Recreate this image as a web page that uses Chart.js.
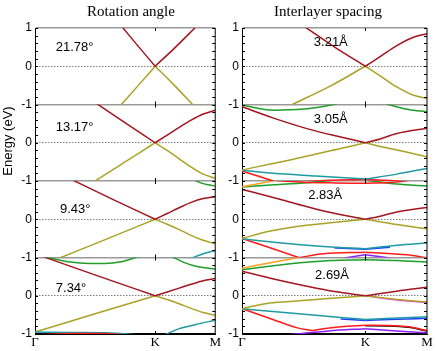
<!DOCTYPE html>
<html lang="en">
<head>
<meta charset="UTF-8" />
<script src="https://cdn.jsdelivr.net/npm/chart.js"></script>
<style>
  body { margin: 0; background: #fff; }
  canvas { position: absolute; top: 0; }
  #rotChart { left: 0; }
  #gapChart { left: 222px; }
</style>
</head>
<body>
<canvas id="rotChart" width="222" height="351"></canvas>
<canvas id="gapChart" width="214" height="351"></canvas>
<script>
// k path: Γ - K - M
const kTicks = [0, 1, 1.5];
const kLabels = ["Γ", "K", "M"];
// four stacked sub panels (E from -1 to 1), shifted on one axis
const panelOffset = [3, 1, -1, -3];
const rotLabels = ["21.78°", "13.17°", "9.43°", "7.34°"];
const gapLabels = ["3.21Å", "3.05Å", "2.83Å", "2.69Å"];

// bands, [k, E]
// rotation angle
const rot0Red = [[0.72,1.05],[0.86,0.52],[1,0],[1.17,0.5],[1.34,1.03]];
const rot0Yel = [[0.71,-1.03],[0.86,-0.5],[1,0],[1.16,-0.5],[1.32,-1.03]];
const rot1Red = [[0.51,1.03],[0.77,0.48],[1,0],[1.1,0.2],[1.2,0.4],[1.3,0.59],[1.4,0.75],[1.5,0.85]];
const rot1Yel = [[0.49,-1.02],[0.75,-0.5],[1,0],[1.1,-0.2],[1.2,-0.42],[1.3,-0.64],[1.4,-0.82],[1.5,-0.93]];
const rot2Red = [[0.31,1.03],[0.66,0.5],[1,0],[1.1,0.15],[1.2,0.3],[1.3,0.44],[1.4,0.54],[1.5,0.59]];
const rot2Yel = [[0.2,-1.02],[0.61,-0.5],[1,0],[1.1,-0.13],[1.2,-0.27],[1.3,-0.42],[1.4,-0.55],[1.5,-0.64]];
const rot2Grn = [[1.32,1.03],[1.38,0.95],[1.44,0.9],[1.5,0.87]];
const rot2Teal = [[1.3,-1.02],[1.4,-0.9],[1.5,-0.82]];
const rot3Red = [[0.06,1.03],[0.54,0.5],[1,0],[1.1,0.1],[1.2,0.2],[1.3,0.3],[1.4,0.39],[1.5,0.45]];
const rot3Yel = [[0,-0.95],[0.5,-0.47],[1,0],[1.1,-0.1],[1.2,-0.21],[1.3,-0.33],[1.4,-0.44],[1.5,-0.51]];
const rot3Grn = [[0.08,1.02],[0.3,0.88],[0.53,0.84],[0.7,0.88],[0.86,1.02]];
const rot3Grn2 = [[1.14,1.02],[1.25,0.86],[1.34,0.77],[1.5,0.7]];
const rot3Teal = [[1.08,-1.02],[1.2,-0.86],[1.34,-0.75],[1.5,-0.64]];
const rot3Teal2 = [[0,-0.95],[0.3,-0.96],[0.6,-0.97],[0.85,-1.02]];
const rot3Red2 = [[0.05,-1.02],[0.3,-0.99],[0.55,-0.99],[0.75,-1.02]];

// interlayer spacing
const gap0Red = [[0.5,1.05],[0.77,0.46],[1,0],[1.12,0.25],[1.255,0.54],[1.39,0.76],[1.5,0.85]];
const gap0Yel = [[0.4,-1.01],[0.715,-0.52],[1,0],[1.12,-0.25],[1.255,-0.54],[1.39,-0.76],[1.5,-0.84]];
const gap1Grn = [[0,0.98],[0.256,0.85],[0.5,0.88],[0.77,1.01]];
const gap1Grn2 = [[1.17,1.01],[1.35,0.87],[1.5,0.81]];
const gap1Red = [[0,0.94],[0.25,0.65],[0.526,0.37],[0.8,0.15],[1,0],[1.12,0.1],[1.255,0.24],[1.5,0.38]];
const gap1Yel = [[0,-0.71],[0.39,-0.45],[0.8,-0.15],[1,0],[1.12,-0.1],[1.255,-0.19],[1.5,-0.37]];
const gap1Teal = [[0,-0.72],[0.256,-0.8],[0.6,-0.87],[1,-0.95],[1.255,-0.82],[1.5,-0.67]];
const gap1Red2 = [[0,-0.74],[0.13,-0.87],[0.26,-1.01]];
const gap1Red3 = [[0.5,-1.02],[0.7,-0.98],[1,-0.96],[1.2,-0.99],[1.3,-1.02]];
const gap2Org = [[0,0.85],[0.13,0.93],[0.26,1.01]];
const gap2Red = [[0.28,1.01],[0.5,0.97],[0.75,0.95],[1,0.94],[1.2,0.96],[1.35,1.01]];
const gap2Grn = [[0,0.84],[0.26,0.9],[0.5,0.95],[0.72,1.01]];
const gap2Grn2 = [[1.02,1.01],[1.255,0.92],[1.5,0.87]];
const gap2Dred = [[0,0.78],[0.23,0.59],[0.445,0.4],[0.7,0.19],[1,0],[1.12,0.08],[1.255,0.19],[1.5,0.31]];
const gap2Yel = [[0,-0.5],[0.23,-0.31],[0.445,-0.19],[0.7,-0.1],[1,0],[1.255,-0.14],[1.5,-0.25]];
const gap2Teal = [[0,-0.51],[0.26,-0.6],[0.526,-0.68],[0.8,-0.74],[1,-0.77],[1.255,-0.68],[1.5,-0.62]];
const gap2Blue = [[0.75,-0.75],[1,-0.785],[1.2,-0.73]];
const gap2Red2 = [[0,-0.5],[0.24,-0.76],[0.47,-1.01]];
const gap2Red3 = [[0.47,-1.0],[0.66,-0.9],[1,-0.86],[1.34,-0.93],[1.5,-1.01]];
const gap2Pur = [[0.83,-1.01],[1,-0.93],[1.2,-1.01]];
const gap3Org = [[0,0.72],[0.24,0.87],[0.47,1.01]];
const gap3Grn = [[0,0.68],[0.47,0.86],[0.72,0.92],[1,0.94],[1.255,0.92],[1.5,0.88]];
const gap3Dred = [[0,0.64],[0.23,0.46],[0.526,0.25],[0.75,0.11],[1,0],[1.255,0.12],[1.5,0.22]];
const gap3Yel = [[0,-0.34],[0.2,-0.2],[0.39,-0.15],[0.7,-0.07],[1,0],[1.255,-0.1],[1.5,-0.16]];
const gap3Mag = [[1,0],[1.255,-0.11],[1.5,-0.18]];
const gap3Teal = [[0,-0.34],[0.25,-0.41],[0.526,-0.49],[0.8,-0.57],[1,-0.62],[1.255,-0.58],[1.5,-0.55]];
const gap3Blue = [[0.8,-0.61],[1,-0.645],[1.255,-0.615],[1.5,-0.59]];
const gap3Red2 = [[0,-0.34],[0.25,-0.62],[0.45,-0.84],[0.57,-0.91]];
const gap3Red3 = [[0.57,-0.91],[0.66,-0.86],[0.8,-0.81],[1,-0.77],[1.2,-0.78],[1.35,-0.81],[1.5,-0.91]];
const gap3Blk = [[1,-0.785],[1.2,-0.79],[1.35,-0.825],[1.5,-0.92]];
const gap3Pur = [[0.4,-1.01],[0.7,-0.92],[1,-0.86],[1.25,-0.92],[1.5,-0.97]];

const col = {
  dred: "#a3151f", yel: "#aaa226", grn: "#1f9e2a", teal: "#1f9aa3",
  red: "#ff1a1a", org: "#ffa020", pur: "#9020ff", blue: "#2040ff",
  mag: "#ff40ff", blk: "#000000"
};

// [panel, colour, band]; earlier entries are drawn on top
const rotBands = [
  [0, "dred", rot0Red], [0, "yel", rot0Yel],
  [1, "dred", rot1Red], [1, "yel", rot1Yel],
  [2, "dred", rot2Red], [2, "yel", rot2Yel], [2, "grn", rot2Grn], [2, "teal", rot2Teal],
  [3, "red", rot3Red2], [3, "teal", rot3Teal2],
  [3, "dred", rot3Red], [3, "yel", rot3Yel], [3, "grn", rot3Grn], [3, "grn", rot3Grn2], [3, "teal", rot3Teal]
];
const gapBands = [
  [0, "dred", gap0Red], [0, "yel", gap0Yel],
  [1, "grn", gap1Grn], [1, "grn", gap1Grn2], [1, "dred", gap1Red], [1, "yel", gap1Yel],
  [1, "teal", gap1Teal], [1, "red", gap1Red2], [1, "red", gap1Red3],
  [2, "org", gap2Org], [2, "red", gap2Red], [2, "grn", gap2Grn], [2, "grn", gap2Grn2],
  [2, "dred", gap2Dred], [2, "yel", gap2Yel], [2, "teal", gap2Teal], [2, "blue", gap2Blue],
  [2, "red", gap2Red2], [2, "red", gap2Red3], [2, "pur", gap2Pur],
  [3, "org", gap3Org], [3, "grn", gap3Grn], [3, "dred", gap3Dred],
  [3, "yel", gap3Yel], [3, "mag", gap3Mag], [3, "teal", gap3Teal], [3, "blue", gap3Blue],
  [3, "red", gap3Red2], [3, "red", gap3Red3], [3, "blk", gap3Blk], [3, "pur", gap3Pur]
];

// split every band at K so the Dirac crossing stays sharp
function makeSets(bands) {
  const sets = [];
  bands.forEach(([panel, c, pts]) => {
    const off = panelOffset[panel];
    const parts = [pts.filter((p) => p[0] <= 1), pts.filter((p) => p[0] >= 1)];
    parts.forEach((part) => {
      if (part.length < 2) return;
      sets.push({
        data: part.map((p) => ({ x: p[0], y: p[1] + off })),
        borderColor: col[c],
        borderWidth: 1.5,
        pointRadius: 0,
        showLine: true,
        fill: false,
        cubicInterpolationMode: "monotone",
        panel: panel,
      });
    });
  });
  return sets;
}

const isInt = (v) => Math.abs(v - Math.round(v)) < 1e-6;
const yTickVals = [];
for (let i = -20; i <= 20; i++) yTickVals.push(i / 5);

// clip each band to its own sub panel
const panelClip = {
  id: "panelClip",
  beforeDatasetDraw(chart, args) {
    const ds = chart.data.datasets[args.index];
    const y = chart.scales.y, a = chart.chartArea;
    const top = y.getPixelForValue(panelOffset[ds.panel] + 1);
    const bot = y.getPixelForValue(panelOffset[ds.panel] - 1);
    chart.ctx.save();
    chart.ctx.beginPath();
    chart.ctx.rect(a.left, top, a.right - a.left, bot - top);
    chart.ctx.clip();
  },
  afterDatasetDraw(chart) {
    chart.ctx.restore();
  },
};

// right border, inward ticks and the text
const frame = {
  id: "frame",
  afterDraw(chart, args, opts) {
    const ctx = chart.ctx, a = chart.chartArea;
    const x = chart.scales.x, y = chart.scales.y;
    ctx.save();
    ctx.strokeStyle = "#000";
    ctx.lineWidth = 1;
    ctx.beginPath();
    ctx.moveTo(a.right, a.top);
    ctx.lineTo(a.right, a.bottom);
    yTickVals.forEach((v) => {
      const py = Math.round(y.getPixelForValue(v)) + 0.5;
      ctx.moveTo(a.left, py);
      ctx.lineTo(a.left + 3, py);
      ctx.moveTo(a.right, py);
      ctx.lineTo(a.right - 3, py);
    });
    const kx = Math.round(x.getPixelForValue(1)) + 0.5;
    [4, 2, 0, -2, -4].forEach((v) => {
      const py = y.getPixelForValue(v);
      ctx.moveTo(kx, Math.max(a.top, py - 3));
      ctx.lineTo(kx, Math.min(a.bottom, py + 3));
    });
    ctx.stroke();

    ctx.fillStyle = "#000";
    ctx.textAlign = "center";
    ctx.textBaseline = "middle";
    ctx.font = '15px "Liberation Serif"';
    ctx.fillText(opts.title, opts.titleX, 12);
    ctx.font = '13px "Liberation Sans"';
    opts.labels.forEach((t, i) => {
      const p = opts.labelPos[i];
      ctx.fillText(t, x.getPixelForValue(p[0]), y.getPixelForValue(p[1] + panelOffset[i]));
    });
    if (opts.yTitle) {
      ctx.translate(8, 141);
      ctx.rotate(-Math.PI / 2);
      ctx.fillText(opts.yTitle, 0, 0);
    }
    ctx.restore();
  },
};

function makeChart(id, bands, axisW, padRight, frameOpts) {
  return new Chart(document.getElementById(id), {
    type: "scatter",
    data: { datasets: makeSets(bands) },
    options: {
      responsive: false,
      animation: false,
      layout: { padding: { top: 28, right: padRight, left: 0, bottom: 0 } },
      plugins: { legend: { display: false }, tooltip: { enabled: false }, frame: frameOpts },
      scales: {
        x: {
          type: "linear",
          min: 0,
          max: 1.5,
          afterBuildTicks: (s) => { s.ticks = kTicks.map((v) => ({ value: v })); },
          afterFit: (s) => { s.height = 17; },
          grid: { display: false, drawTicks: false },
          border: { color: "#000", width: 1 },
          ticks: {
            autoSkip: false,
            maxRotation: 0,
            padding: 1,
            color: "#000",
            font: { family: "Liberation Serif", size: 13 },
            callback: (v, i) => kLabels[i],
          },
        },
        y: {
          type: "linear",
          min: -4,
          max: 4,
          afterBuildTicks: (s) => { s.ticks = yTickVals.map((v) => ({ value: v })); },
          afterFit: (s) => { s.width = axisW; },
          grid: {
            drawTicks: false,
            color: (c) => {
              if (!c.tick || !isInt(c.tick.value)) return "rgba(0,0,0,0)";
              const n = Math.round(c.tick.value);
              if (n === -4) return "#000";
              return Math.abs(n) % 2 === 1 ? "#808080" : "#999999";
            },
            lineWidth: (c) => {
              if (!c.tick || !isInt(c.tick.value)) return 0;
              return Math.abs(Math.round(c.tick.value)) % 2 === 1 ? 1 : 1.5;
            },
          },
          border: {
            color: "#000",
            width: 1,
            dash: (c) => (c.tick && isInt(c.tick.value) && Math.abs(Math.round(c.tick.value)) % 2 === 1 ? [1.5, 1.5] : []),
          },
          ticks: {
            autoSkip: false,
            padding: 3,
            color: "#000",
            font: { family: "Liberation Sans", size: 12 },
            callback: (v) => {
              if (!isInt(v)) return "";
              const n = Math.round(v);
              if (n === 4) return "1";
              return Math.abs(n) % 2 === 1 ? "0" : "-1";
            },
          },
        },
      },
    },
    plugins: [panelClip, frame],
  });
}

makeChart("rotChart", rotBands, 35, 2, {
  title: "Rotation angle",
  titleX: 131,
  labels: rotLabels,
  labelPos: [[0.33, 0.48], [0.33, 0.39], [0.335, 0.27], [0.3, 0.19]],
  yTitle: "Energy (eV)",
});
makeChart("gapChart", gapBands, 20, 9, {
  title: "Interlayer spacing",
  titleX: 106,
  labels: gapLabels,
  labelPos: [[0.72, 0.61], [0.72, 0.6], [0.675, 0.61], [0.73, 0.52]],
  yTitle: "",
});
</script>
</body>
</html>
